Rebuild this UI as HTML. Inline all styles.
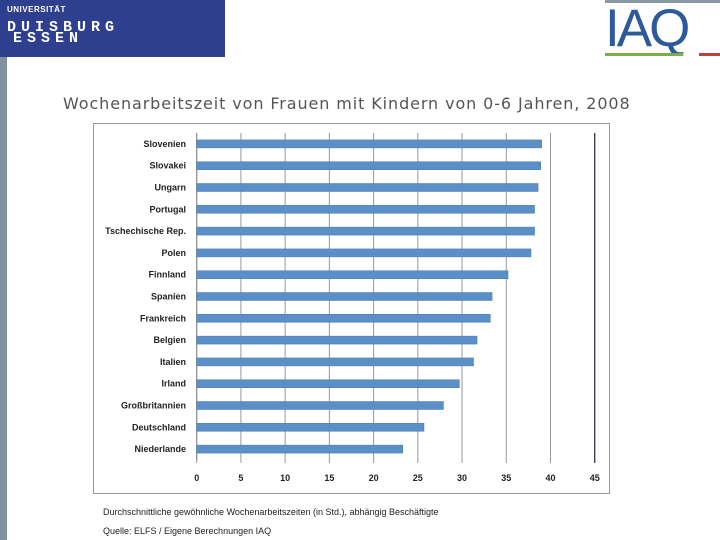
<!DOCTYPE html>
<html><head><meta charset="utf-8"><style>
body{margin:0;width:720px;height:540px;position:relative;background:#fff;font-family:"Liberation Sans",sans-serif;overflow:hidden}
.abs{position:absolute}
</style></head><body>
<div class="abs" style="left:0;top:0;width:225px;height:57px;background:#2e3f8f;color:#fff">
 <div class="abs" style="left:7px;top:5px;font-size:8px;font-weight:bold;letter-spacing:0.5px">UNIVERSITÄT</div>
 <div class="abs" style="left:7px;top:19px;font-size:15px;font-weight:bold;letter-spacing:5px;font-family:'Liberation Mono',monospace">DUISBURG</div>
 <div class="abs" style="left:13px;top:30px;font-size:15px;font-weight:bold;letter-spacing:5px;font-family:'Liberation Mono',monospace">ESSEN</div>
</div>
<div class="abs" style="left:0;top:57px;width:7px;height:483px;background:#7f939e"></div>
<div class="abs" style="left:605px;top:0;width:115px;height:60px">
 <div class="abs" style="left:0;top:0;width:115px;height:3px;background:#8a9aa4"></div>
 <div class="abs" style="left:0px;top:0px;font-size:53px;color:#2d5a9a;letter-spacing:-3px;line-height:58px">IAQ</div>
 <div class="abs" style="left:0;top:53px;width:78px;height:3px;background:#7ab04a"></div>
 <div class="abs" style="left:94px;top:53px;width:21px;height:3px;background:#c0403a"></div>
</div>
<div class="abs" style="left:63px;top:94px;font-family:'DejaVu Sans',sans-serif;font-size:16px;color:#555;letter-spacing:0.9px">Wochenarbeitszeit von Frauen mit Kindern von 0-6 Jahren, 2008</div>
<svg class="abs" style="left:0;top:0" width="720" height="540">
 <rect x="93.5" y="123.5" width="516" height="370" fill="#fff" stroke="#999"/>
 <g id="grid"></g><g id="bars"></g><g id="labels"></g>
</svg>
<div class="abs" style="left:103px;top:507px;font-size:9px;color:#222">Durchschnittliche gewöhnliche Wochenarbeitszeiten (in Std.), abhängig Beschäftigte</div>
<div class="abs" style="left:103px;top:526px;font-size:9px;color:#222">Quelle: ELFS / Eigene Berechnungen IAQ</div>
<script>
const categories=["Slovenien","Slovakei","Ungarn","Portugal","Tschechische Rep.","Polen","Finnland","Spanien","Frankreich","Belgien","Italien","Irland","Großbritannien","Deutschland","Niederlande"];
const values=[39.0,38.9,38.6,38.2,38.2,37.8,35.2,33.4,33.2,31.7,31.3,29.7,27.9,25.7,23.3];
const ticks=[0,5,10,15,20,25,30,35,40,45];
const NS="http://www.w3.org/2000/svg";
const X0=196.7,X1=594.7,XMAX=45,PTOP=133,PBOT=460;
const xs=v=>X0+(X1-X0)*v/XMAX;
const band=(PBOT-PTOP)/categories.length;
const ys=i=>PTOP+band*(i+0.5);
function mk(t,a,p){const e=document.createElementNS(NS,t);for(const k in a)e.setAttribute(k,a[k]);document.getElementById(p).appendChild(e);return e;}
ticks.forEach(t=>{
 const l=mk('line',{x1:xs(t),x2:xs(t),y1:PTOP,y2:PBOT+3,stroke:t===45?'#334':'#999','stroke-width':t===45?1.3:1},'grid');
 
 
 const tx=mk('text',{x:xs(t),y:481,'text-anchor':'middle','font-size':9,'font-weight':'bold',fill:'#222','font-family':'Liberation Sans'},'labels');
 tx.textContent=t;
 
 
});
const ax=mk('line',{x1:X0,x2:X0,y1:PTOP,y2:PBOT,stroke:'#888'},'grid');


categories.forEach((c,i)=>{
 const r=mk('rect',{x:X0,y:ys(i)-4,width:xs(values[i])-X0,height:8,fill:'#5b8fc7',stroke:'#4a7ab0','stroke-width':0.5},'bars');
 
 
 const tx=mk('text',{x:186,y:ys(i)+3,'text-anchor':'end','font-size':9,'font-weight':'bold',fill:'#222','font-family':'Liberation Sans'},'labels');
 tx.textContent=c;
 
 
});
</script>
</body></html>
